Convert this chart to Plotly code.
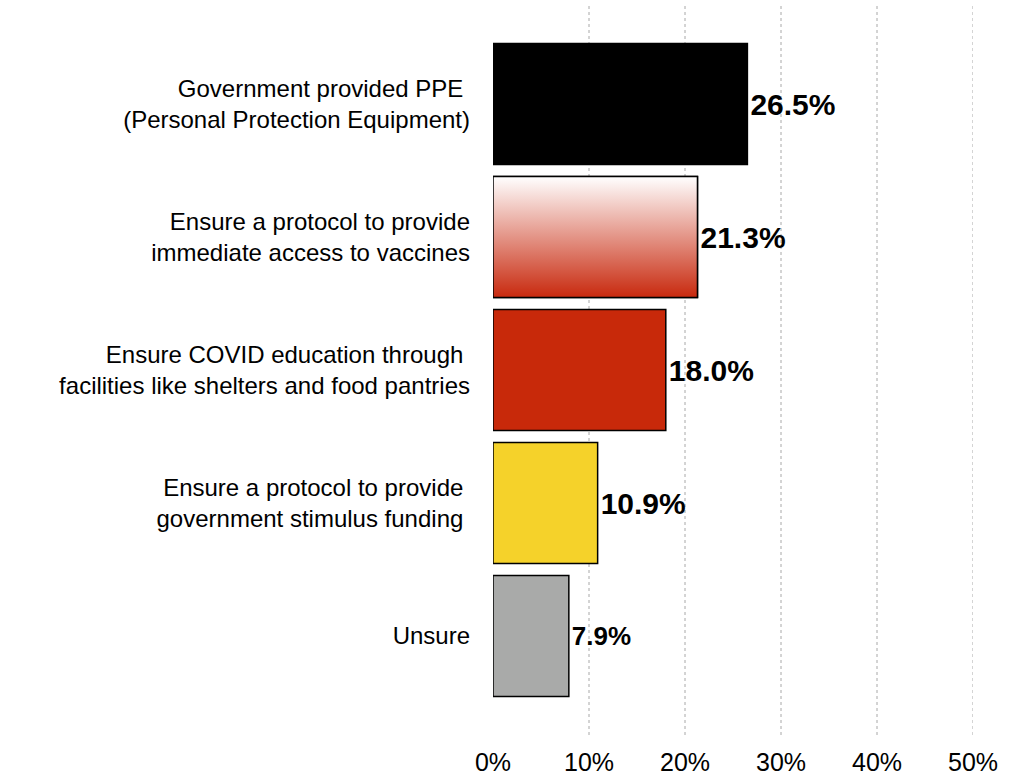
import plotly.graph_objects as go

categories = [
    "Government provided PPE <br>(Personal Protection Equipment)",
    "Ensure a protocol to provide<br>immediate access to vaccines",
    "Ensure COVID education through <br>facilities like shelters and food pantries",
    "Ensure a protocol to provide <br>government stimulus funding ",
    "Unsure",
]
values = [26.5, 21.3, 18.0, 10.9, 7.9]
value_labels = ["26.5%", "21.3%", "18.0%", "10.9%", "7.9%"]
colors = ["#000000", "rgba(0,0,0,0)", "#c8290a", "#f5d22a", "#a9aaa9"]
label_sizes = [30, 30, 30, 30, 26]
x_ticks = [0, 10, 20, 30, 40, 50]
x_tick_text = ["0%", "10%", "20%", "30%", "40%", "50%"]
grid_vals = [10, 20, 30, 40, 50]

n = len(categories)
positions = [n - 1 - i for i in range(n)]
bar_w = 0.91
FONT = "Liberation Sans, Arial, Helvetica, sans-serif"

fig = go.Figure()

# grid lines (dotted)
for g in grid_vals:
    fig.add_shape(type="line", xref="x", yref="paper", x0=g, x1=g, y0=0, y1=1,
                  line=dict(color="#a8a8a8", width=1, dash="dot"), layer="below")

fig.add_trace(go.Bar(
    y=positions, x=values, orientation="h", width=bar_w,
    marker=dict(color=colors, line=dict(color="#000000", width=1.5)),
    text=value_labels, textposition="outside", cliponaxis=False,
    textfont=dict(family=FONT, size=label_sizes, color="#000000", weight="bold"),
    constraintext="none", hoverinfo="skip", showlegend=False,
))

# gradient bar (second category) drawn as a filled shape from its value
gi = 1
yc = positions[gi]
v = values[gi]
fig.add_trace(go.Scatter(
    x=[0, v, v, 0, 0],
    y=[yc - bar_w / 2, yc - bar_w / 2, yc + bar_w / 2, yc + bar_w / 2, yc - bar_w / 2],
    mode="lines", fill="toself",
    fillgradient=dict(type="vertical", colorscale=[[0, "#c8290e"], [1, "#ffffff"]]),
    line=dict(color="#000000", width=1.5),
    hoverinfo="skip", showlegend=False,
))

fig.update_layout(
    width=1021, height=778,
    margin=dict(l=493, r=48, t=5, b=43, autoexpand=False),
    paper_bgcolor="white", plot_bgcolor="white",
    font=dict(family=FONT, color="#000000"),
    xaxis=dict(range=[0, 50], tickvals=x_ticks, ticktext=x_tick_text,
               showgrid=False, zeroline=False, showline=False, automargin=False,
               tickfont=dict(size=25), ticks="", ticklabelstandoff=10,
               fixedrange=True),
    yaxis=dict(range=[-0.744, n - 1 + 0.745], tickvals=positions, ticktext=categories,
               showgrid=False, zeroline=False, showline=False, automargin=False,
               tickfont=dict(size=24), ticks="", ticklabelstandoff=22,
               fixedrange=True),
)

fig.write_html("out.html", config={"displayModeBar": False},
               post_script="document.body.style.margin='0';document.body.style.overflow='hidden';")
